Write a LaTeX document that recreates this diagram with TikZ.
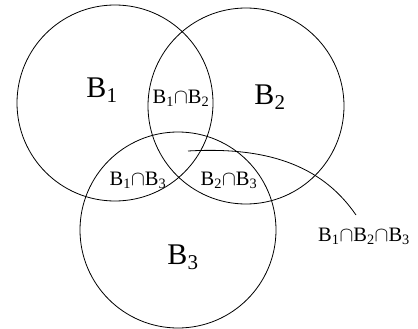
\documentclass[tikz,border=0pt]{standalone}
\usepackage{fontspec}
\setmainfont{Liberation Serif}
\usetikzlibrary{positioning}

\begin{document}
\begin{tikzpicture}[
        x=1pt, y=-1pt,
        setc/.style={circle, draw, line width=0.8pt, minimum size=196pt, inner sep=0pt},
        big/.style={font=\fontsize{30}{31}\selectfont, inner sep=0pt},
        small/.style={font=\fontsize{20.5}{21}\selectfont, inner sep=0pt},
    ]
        \useasboundingbox (0,0) rectangle (418,329);

        % The three sets
        \node[setc] (C1) at (115,103) {};
        \node[setc] (C2) at (246,106) {};
        \node[setc] (C3) at (178,230) {};

        % Set names
        \node[big] (B1) at (102,90) {B\textsubscript{1}};
        \node[big] (B2) at (270,97) {B\textsubscript{2}};
        \node[big] (B3) at (183,257) {B\textsubscript{3}};

        % Pairwise intersections
        \node[small] (B12) at (181,98) {B\textsubscript{1}$\cap$B\textsubscript{2}};
        \node[small] (B13) at (138,180) {B\textsubscript{1}$\cap$B\textsubscript{3}};
        \node[small] (B23) at (229,180) {B\textsubscript{2}$\cap$B\textsubscript{3}};

        % Triple intersection with pointer
        \node[small] (B123) at (364,236) {B\textsubscript{1}$\cap$B\textsubscript{2}$\cap$B\textsubscript{3}};
        \coordinate (tip) at (188,151);
        \coordinate (tail) at (356,215);
        \draw[line width=0.8pt] (tip) .. controls (275,146) and (325,170) .. (tail);
    \end{tikzpicture}
\end{document}
